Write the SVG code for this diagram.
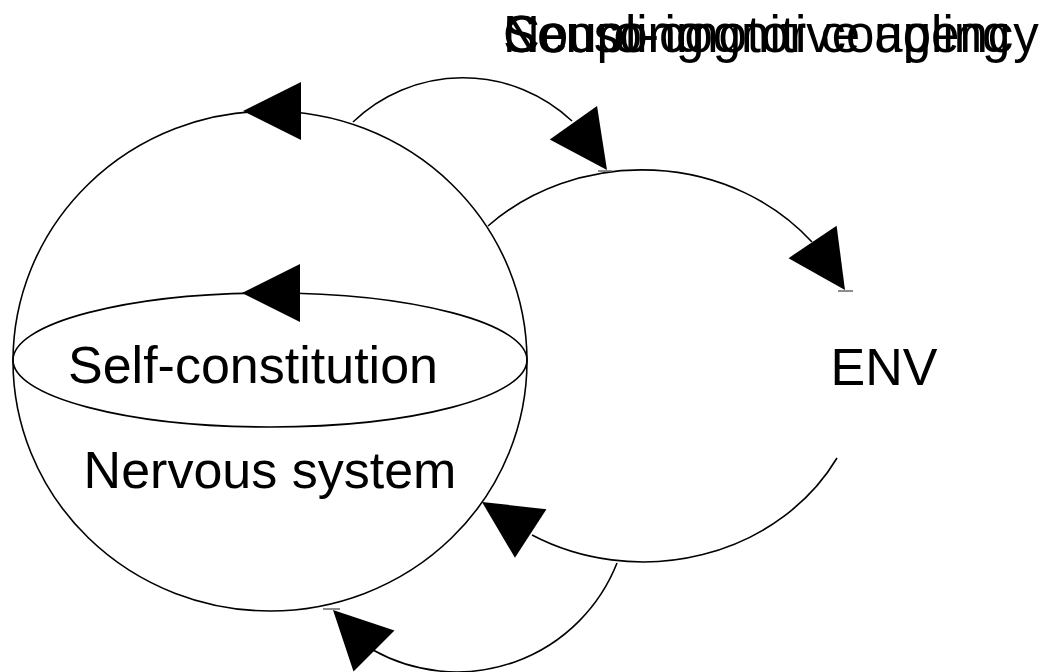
<svg xmlns="http://www.w3.org/2000/svg" xmlns:xlink="http://www.w3.org/1999/xlink" width="1047" height="672" viewBox="0 0 1047 672">
<style>
.ln{fill:none;stroke:#000;stroke-width:1.6}
.tk{stroke:#666;stroke-width:1.5}
.t{font-family:"Liberation Sans",Arial,sans-serif;font-size:52px;fill:#000}
.ti{font-family:"Liberation Sans",Arial,sans-serif;font-size:51px;fill:#000}
</style>
<defs>
<path id="ah" d="M0,0 L-58,-29 L-58,29 Z" fill="#000"/>
</defs>
<rect width="1047" height="672" fill="#fff"/>
<g id="organism">
<ellipse class="ln" cx="270" cy="361" rx="257" ry="250"/>
<use xlink:href="#ah" href="#ah" transform="translate(243,111) rotate(180)"/>
</g>
<g id="self-constitution">
<ellipse class="ln" cx="270" cy="360" rx="257" ry="67"/>
<use xlink:href="#ah" href="#ah" transform="translate(242,293) rotate(180)"/>
<text class="t" x="253" y="383" text-anchor="middle">Self-constitution</text>
</g>
<g id="nervous-system">
<text class="t" x="270" y="488" text-anchor="middle">Nervous system</text>
</g>
<g id="env">
<text class="t" x="884" y="385" text-anchor="middle">ENV</text>
</g>
<g id="labels">
<text class="ti" x="503" y="52">Neuro-cognitive agency</text>
<text class="ti" x="503" y="52">Coupling</text>
<text class="ti" x="503" y="52">Sensorimotor coupling</text>
</g>
<g id="connectors">
<path class="ln" d="M353,122 A159,159 0 0 1 572,121"/>
<use xlink:href="#ah" href="#ah" transform="translate(607,170) rotate(54.6)"/>
<path class="ln" d="M488,226 A220,197 0 0 1 812,242"/>
<use xlink:href="#ah" href="#ah" transform="translate(845,290) rotate(56)"/>
<path class="ln" d="M837,458 A220,197 0 0 1 532,535"/>
<use xlink:href="#ah" href="#ah" transform="translate(482,502) rotate(212.9)"/>
<path class="ln" d="M617,563 A172,172 0 0 1 373,650"/>
<use xlink:href="#ah" href="#ah" transform="translate(333,610) rotate(225)"/>
<line class="tk" x1="598" y1="171" x2="612" y2="171"/>
<line class="tk" x1="838" y1="291" x2="853" y2="291"/>
<line class="tk" x1="323" y1="609" x2="340" y2="609"/>
</g>
</svg>
